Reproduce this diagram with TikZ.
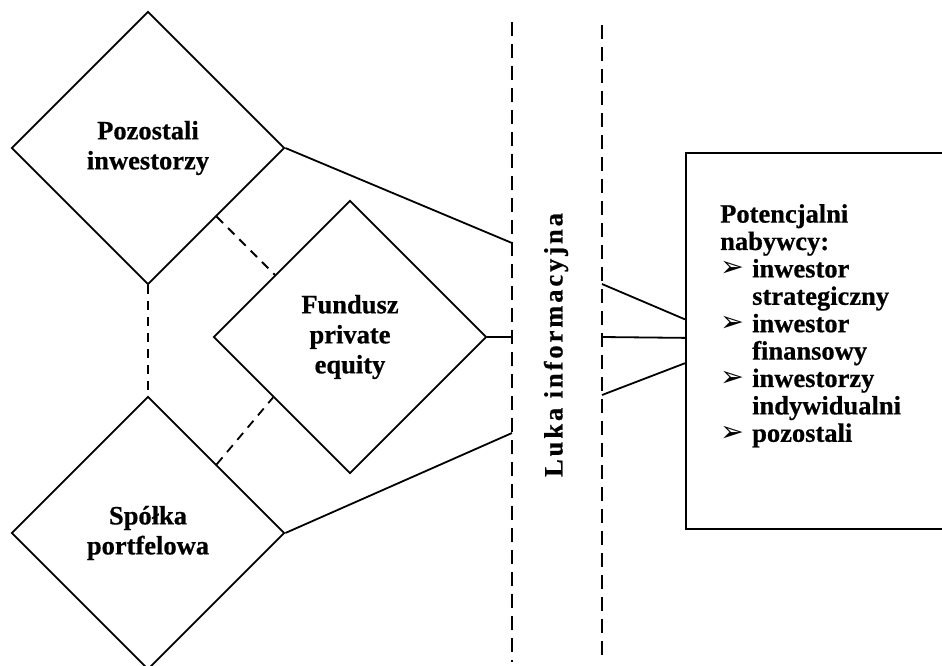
\documentclass[tikz,border=0pt]{standalone}
\usepackage{fontspec}
\setmainfont{Liberation Serif}[BoldFeatures={FakeBold=0.6}]
\newfontfamily\symfont{DejaVu Sans}
\newfontfamily\spacedfont[LetterSpace=11,BoldFeatures={FakeBold=0.6}]{Liberation Serif}
\usetikzlibrary{shapes.geometric,calc}
\newcommand{\buyitem}[1]{\makebox[32pt][l]{\raisebox{0.5pt}[0pt][0pt]{\symfont\fontsize{28.5}{28.5}\selectfont ➢}}#1}
\begin{document}
\begin{tikzpicture}[x=1pt,y=-1pt,
  lbl/.style={font=\bfseries\fontsize{26.5}{30}\selectfont, align=center},
  rhomb/.style={draw, shape=diamond, aspect=1, minimum width=273pt, minimum height=273pt, inner sep=0pt, line width=1.8pt, lbl},
  link/.style={line width=1.8pt},
  gapline/.style={line width=1.8pt, dash pattern=on 14pt off 8pt},
  tie/.style={line width=1.8pt, dash pattern=on 9pt off 7pt}]
\useasboundingbox (0,0) rectangle (942,665);

% diamonds
\node[rhomb] (poz) at (148,148) {Pozostali\\inwestorzy};
\node[rhomb] (fun) at (350,337) {Fundusz\\private\\equity};
\node[rhomb] (spo) at (148,533) {Spółka\\portfelowa};

% buyers box
\node[draw, line width=1.8pt, anchor=north west, minimum width=265pt, minimum height=376pt] (buyers) at (685,152) {};
\node[anchor=north west, inner sep=0pt, align=left,
  font=\bfseries\fontsize{26.5}{27.4}\selectfont] (buyerstext) at (720,204)
  {Potencjalni\\
   nabywcy:\\
   \buyitem{inwestor}\\
   \hspace*{32pt}strategiczny\\
   \buyitem{inwestor}\\
   \hspace*{32pt}finansowy\\
   \buyitem{inwestorzy}\\
   \hspace*{32pt}indywidualni\\
   \buyitem{pozostali}};

% information gap
\coordinate (g1top) at (512,22);
\coordinate (g1bot) at (512,662);
\coordinate (g2top) at (602,25);
\coordinate (g2bot) at (602,662);
\draw[gapline] (g1top) -- (g1bot);
\draw[gapline] (g2top) -- (g2bot);
\node[rotate=90, font=\spacedfont\bfseries\fontsize{26.5}{30}\selectfont] (gap) at (556,345)
  {Luka informacyjna};

% connectors to left gap line
\coordinate (l1) at (512,243);
\coordinate (l2) at (512,337);
\coordinate (l3) at (512,433);
\draw[link] (poz.east) -- (l1);
\draw[link] (fun.east) -- (l2);
\draw[link] (spo.east) -- (l3);

% connectors from right gap line to box
\coordinate (r1) at (602,284);
\coordinate (r2) at (602,337);
\coordinate (r3) at (602,395);
\coordinate (b1) at ($(buyers.north west)!0.443!(buyers.south west)$);
\coordinate (b2) at ($(buyers.north west)!0.492!(buyers.south west)$);
\coordinate (b3) at ($(buyers.north west)!0.559!(buyers.south west)$);
\draw[link] (r1) -- (b1);
\draw[link] (r2) -- (b2);
\draw[link] (r3) -- (b3);

% dashed ties between diamonds
\coordinate (t1) at ($(fun.west)!(poz.south east)!(fun.north)$);
\coordinate (t2) at ($(fun.west)!0.44!(fun.south)$);
\draw[tie] (poz.south east) -- (t1);
\draw[tie] (spo.north east) -- (t2);
\draw[tie] (poz.south) -- (spo.north);
\end{tikzpicture}
\end{document}
